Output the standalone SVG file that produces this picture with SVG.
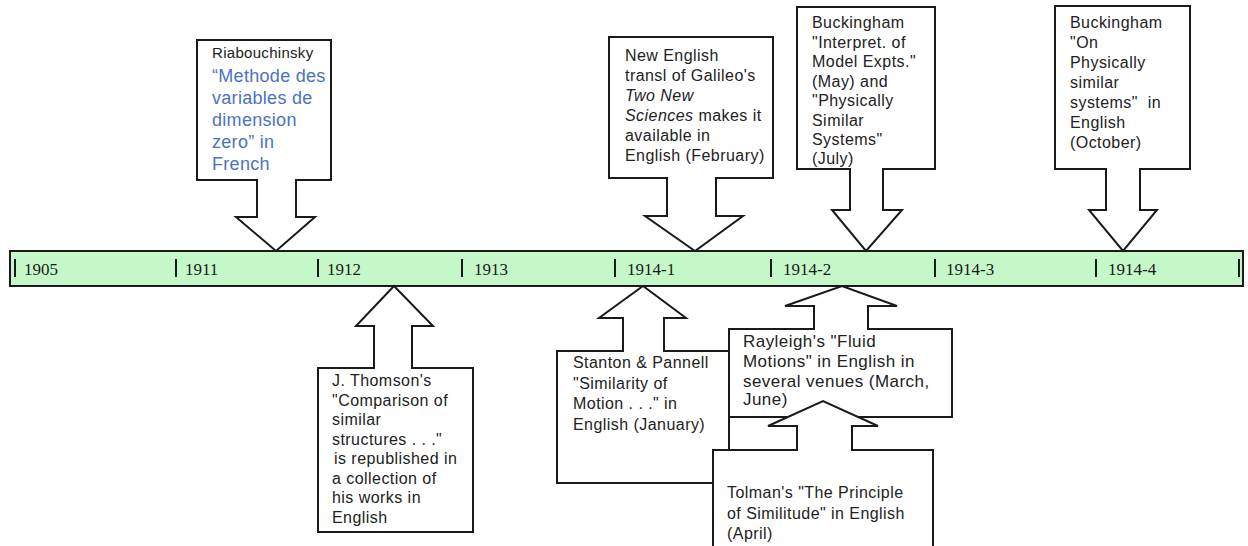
<svg xmlns="http://www.w3.org/2000/svg" width="1248" height="546" viewBox="0 0 1248 546">
<style>
.shape{fill:#ffffff;stroke:#1a1a1a;stroke-width:2;stroke-linejoin:miter}
.bar{fill:#c6f7c8;stroke:#1a1a1a;stroke-width:2}
.tick{stroke:#1a1a1a;stroke-width:2}
.yr{font-family:"Liberation Serif","Times New Roman",serif;font-size:17px;fill:#1a1a1a}
.t{font-family:"Liberation Sans",Arial,sans-serif;font-size:16px;fill:#222222;letter-spacing:0.45px}
.b{fill:#4a72c4;font-size:18px;letter-spacing:0.3px}
.r{font-size:15px;letter-spacing:0.3px}
.ry{font-size:17px}
.i{font-style:italic}
</style>
<rect width="1248" height="546" fill="#ffffff"/>
<g id="timeline">
<rect class="bar" x="10" y="251" width="1233" height="35"/>
<g class="tick">
<line x1="15" y1="259" x2="15" y2="277"/>
<line x1="176" y1="259" x2="176" y2="277"/>
<line x1="318" y1="259" x2="318" y2="277"/>
<line x1="462" y1="259" x2="462" y2="277"/>
<line x1="615" y1="259" x2="615" y2="277"/>
<line x1="771" y1="259" x2="771" y2="277"/>
<line x1="935" y1="259" x2="935" y2="277"/>
<line x1="1096" y1="259" x2="1096" y2="277"/>
<line x1="1239" y1="259" x2="1239" y2="277"/>
</g>
<text class="yr" x="24" y="275">1905</text>
<text class="yr" x="185" y="275">1911</text>
<text class="yr" x="327" y="275">1912</text>
<text class="yr" x="474" y="275">1913</text>
<text class="yr" x="627" y="275">1914-1</text>
<text class="yr" x="783" y="275">1914-2</text>
<text class="yr" x="946" y="275">1914-3</text>
<text class="yr" x="1108" y="275">1914-4</text>
</g>
<g id="connectors"></g>
<g id="riabouchinsky">
<path class="shape" d="M197,40 H331 V180 H296 V217 H315 L276,251 L236,217 H257 V180 H197 Z"/>
<text class="t r" x="212" y="58">Riabouchinsky</text>
<text class="t b" x="212" y="82">“Methode des</text>
<text class="t b" x="212" y="104">variables de</text>
<text class="t b" x="212" y="126">dimension</text>
<text class="t b" x="212" y="148">zero” in</text>
<text class="t b" x="212" y="170">French</text>
</g>
<g id="galileo">
<path class="shape" d="M609,37 H773 V178 H716 V216 H743 L695,251 L645,216 H667 V178 H609 Z"/>
<text class="t" x="625" y="61">New English</text>
<text class="t" x="625" y="81">transl of Galileo's</text>
<text class="t i" x="625" y="101">Two New</text>
<text class="t" x="625" y="121"><tspan class="i">Sciences</tspan> makes it</text>
<text class="t" x="625" y="141">available in</text>
<text class="t" x="625" y="161">English (February)</text>
</g>
<g id="buckingham1">
<path class="shape" d="M797,7 H935 V169 H883 V210 H902 L866,251 L832,210 H850 V169 H797 Z"/>
<text class="t" x="812" y="28">Buckingham</text>
<text class="t" x="812" y="47.5">"Interpret. of</text>
<text class="t" x="812" y="67">Model Expts."</text>
<text class="t" x="812" y="86.5">(May) and</text>
<text class="t" x="812" y="106">"Physically</text>
<text class="t" x="812" y="125.5">Similar</text>
<text class="t" x="812" y="145">Systems"</text>
<text class="t" x="812" y="164">(July)</text>
</g>
<g id="buckingham2">
<path class="shape" d="M1055,6 H1190 V169 H1140 V210 H1157 L1123,251 L1089,210 H1106 V169 H1055 Z"/>
<text class="t" x="1070" y="28">Buckingham</text>
<text class="t" x="1070" y="48">"On</text>
<text class="t" x="1070" y="68">Physically</text>
<text class="t" x="1070" y="88">similar</text>
<text class="t" x="1070" y="108" xml:space="preserve">systems"  in</text>
<text class="t" x="1070" y="128">English</text>
<text class="t" x="1070" y="148">(October)</text>
</g>
<g id="thomson">
<path class="shape" d="M318,368 H374 V326 H356 L394,286 L433,326 H412 V368 H473 V532 H318 Z"/>
<text class="t" x="332" y="386">J. Thomson's</text>
<text class="t" x="332" y="405.5">"Comparison of</text>
<text class="t" x="332" y="425">similar</text>
<text class="t" x="332" y="444.5">structures . . ."</text>
<text class="t" x="334" y="464">is republished in</text>
<text class="t" x="332" y="483.5">a collection of</text>
<text class="t" x="332" y="503">his works in</text>
<text class="t" x="332" y="522.5">English</text>
</g>
<g id="stanton">
<path class="shape" d="M557,351 H623 V318 H599 L643,286 L686,318 H664 V351 H729 V483 H557 Z"/>
<text class="t" x="573" y="368">Stanton &amp; Pannell</text>
<text class="t" x="573" y="388.5">"Similarity of</text>
<text class="t" x="573" y="409">Motion . . ." in</text>
<text class="t" x="573" y="429.5">English (January)</text>
</g>
<g id="rayleigh">
<path class="shape" d="M729,329 H814 V306 H785 L842,286 L897,306 H868 V329 H952 V417 H729 Z"/>
<text class="t ry" x="743" y="347">Rayleigh's "Fluid</text>
<text class="t ry" x="743" y="367">Motions" in English in</text>
<text class="t ry" x="743" y="387">several venues (March,</text>
<text class="t ry" x="743" y="405">June)</text>
</g>
<g id="tolman">
<path class="shape" d="M713,450 H797 V426 H768 L823,401 L878,426 H852 V450 H933 V560 H713 Z"/>
<text class="t" x="727" y="498">Tolman's "The Principle</text>
<text class="t" x="727" y="519">of Similitude" in English</text>
<text class="t" x="727" y="539">(April)</text>
</g>
</svg>
